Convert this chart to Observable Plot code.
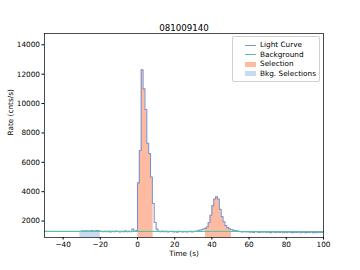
<!DOCTYPE html>
<html><head><meta charset="utf-8">
<script src="https://cdn.jsdelivr.net/npm/d3@7"></script>
<script src="https://cdn.jsdelivr.net/npm/@observablehq/plot@0.6"></script>
<style>
body{margin:0;background:#fff;}
#wrap{position:relative;width:360px;height:270px;font-family:"DejaVu Sans",sans-serif;}
#legend{position:absolute;left:232px;top:36px;width:88px;height:46px;border:0.8px solid #d0d0d0;border-radius:2px;background:rgba(255,255,255,0.85);box-sizing:border-box;}
.row{position:absolute;left:0;height:10px;width:100%;}
.sw{position:absolute;left:12px;width:11px;}
.lbl{position:absolute;left:27px;top:0;font-size:7.3px;line-height:10px;color:#000;white-space:nowrap;}
</style></head><body><div id="wrap"></div>
<script>
const title = "081009140";
const t0 = -31;          // start of first 1-s bin
const binWidth = 1;
const rates = [
  1290,1330,1310,1340,1300,1320,1350,1310,1330,1360,1320,
  1290,1270,1300,1280,1310,1260,1300,1280,1320,1290,1250,1310,1270,1330,1280,1300,1270,1450,1300,1350,
  4600,6800,12300,11000,9600,7300,6600,5000,3200,1900,1450,1300,
  1280,1320,1270,1300,1250,1290,1310,1260,1280,1240,1300,1270,1260,1290,1250,1280,1300,1260,1290,1320,1340,1380,
  1400,1450,1500,1600,1900,2400,3050,3500,3650,3500,2800,2300,1950,1700,1550,1480,1420,1380,1350,1330,
  1300,1280,1260,1290,1250,1270,1240,1260,1230,1280,1250,1220,1260,1240,1270,1230,1250,1210,1260,1240,
  1220,1250,1230,1260,1200,1240,1220,1250,1230,1210,1240,1220,1250,1200,1230,1240,1210,1230,1220,1250,
  1210,1230,1200,1240,1220,1230
];
const bgTimes = [-50, 100];
const bgRates = [1300, 1290];
const selections = [[0.2, 8.4], [36.5, 50.5]];
const bkgSelections = [[-31, -20]];
const xTicks = [-40, -20, 0, 20, 40, 60, 80, 100];
const yTicks = [2000, 4000, 6000, 8000, 10000, 12000, 14000];
const xDomain = [-50, 100];
const yDomain = [880, 14770];
const legendItems = ["Light Curve", "Background", "Selection", "Bkg. Selections"];
const colors = {lc: "#7f93cc", bg: "#5fbf9f", sel: "#fdbba1", bkg: "#c6dbef"};

const lc = rates.map((r, i) => ({t: t0 + i * binWidth, r}));
lc.push({t: t0 + rates.length * binWidth, r: rates[rates.length - 1]});
const bg = bgTimes.map((t, i) => ({t, r: bgRates[i]}));
const rateAt = t => rates[Math.min(rates.length - 1, Math.max(0, Math.floor((t - t0) / binWidth)))];
function clipSteps(a, b, g) {
  const pts = [{t: a, r: rateAt(a), g}];
  for (let k = Math.ceil((a - t0) / binWidth); t0 + k * binWidth < b; k++) {
    const e = t0 + k * binWidth;
    if (e > a) pts.push({t: e, r: rateAt(e), g});
  }
  pts.push({t: b, r: rateAt(b - 1e-9), g});
  return pts;
}
const selArea = selections.flatMap((s, i) => clipSteps(s[0], s[1], i));
const bkgArea = bkgSelections.flatMap((s, i) => clipSteps(s[0], s[1], i));

const plot = Plot.plot({
  width: 360, height: 270,
  marginLeft: 44, marginRight: 37, marginTop: 33, marginBottom: 33,
  style: {fontFamily: "DejaVu Sans", fontSize: "7.3px", background: "white", color: "black", overflow: "visible"},
  x: {domain: xDomain, label: null},
  y: {domain: yDomain, label: null},
  marks: [
    Plot.areaY(bkgArea, {x: "t", y: "r", y1: yDomain[0], z: "g", curve: "step-after", fill: colors.bkg}),
    Plot.areaY(selArea, {x: "t", y: "r", y1: yDomain[0], z: "g", curve: "step-after", fill: colors.sel}),
    Plot.line(lc, {x: "t", y: "r", curve: "step-after", stroke: colors.lc, strokeWidth: 1.1, clip: true}),
    Plot.line(bg, {x: "t", y: "r", stroke: colors.bg, strokeWidth: 1.1}),
    Plot.frame({stroke: "black", strokeWidth: 0.7}),
    Plot.axisX({ticks: xTicks, tickSize: 2.5, tickPadding: 2, label: null, tickFormat: d3.format("d")}),
    Plot.axisY({ticks: yTicks, tickSize: 2.5, tickPadding: 2, label: null, tickFormat: d3.format("d")}),
    Plot.text([title], {text: d => d, frameAnchor: "top", dy: -9, fontSize: 8.7}),
    Plot.text(["Time (s)"], {text: d => d, frameAnchor: "bottom", dy: 18.5, fontSize: 7.3}),
    Plot.text(["Rate (cnts/s)"], {text: d => d, frameAnchor: "left", dx: -34, rotate: -90, fontSize: 7.3})
  ]
});
const wrap = document.getElementById("wrap");
wrap.appendChild(plot);

const leg = document.createElement("div");
leg.id = "legend";
const swStyles = [
  `top:4.5px;height:1px;background:${colors.lc}`,
  `top:4.5px;height:1px;background:${colors.bg}`,
  `top:2.5px;height:5px;background:${colors.sel}`,
  `top:2.5px;height:5px;background:${colors.bkg}`
];
legendItems.forEach((name, i) => {
  const row = document.createElement("div");
  row.className = "row";
  row.style.top = (3 + i * 9.6) + "px";
  const sw = document.createElement("div");
  sw.className = "sw";
  sw.style.cssText = swStyles[i];
  const lb = document.createElement("div");
  lb.className = "lbl";
  lb.textContent = name;
  row.appendChild(sw); row.appendChild(lb);
  leg.appendChild(row);
});
wrap.appendChild(leg);
</script>
</body></html>
